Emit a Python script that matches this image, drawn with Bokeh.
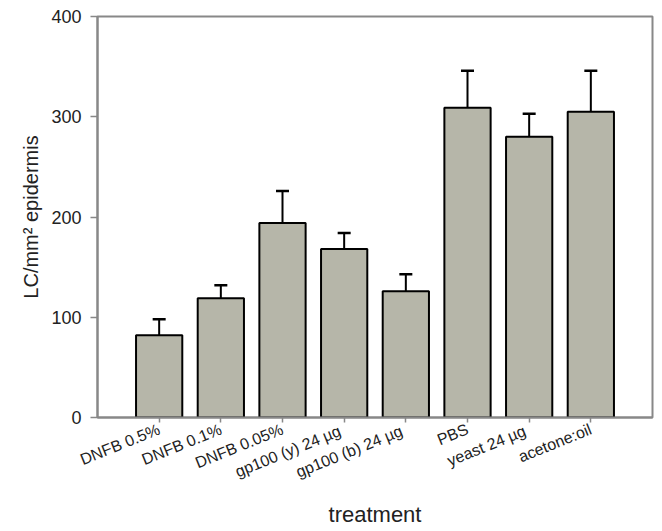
from bokeh.plotting import figure
from bokeh.models import ColumnDataSource, FactorRange, Range1d, FixedTicker, Whisker, TeeHead
from bokeh.embed import file_html
from bokeh.resources import INLINE

treatments = ["DNFB 0.5%", "DNFB 0.1%", "DNFB 0.05%", "gp100 (y) 24  µg",
              "gp100 (b) 24  µg", "PBS", "yeast 24  µg", "acetone:oil"]
lc_mean = [82, 119, 194, 168, 126, 309, 280, 305]
lc_sem = [16, 13, 32, 16, 17, 37, 23, 41]
y_ticks = [0, 100, 200, 300, 400]

upper = [m + s for m, s in zip(lc_mean, lc_sem)]
src = ColumnDataSource(dict(x=treatments, top=lc_mean, upper=upper))

p = figure(x_range=FactorRange(factors=treatments, range_padding=0.5, range_padding_units="absolute"),
           y_range=Range1d(0, 400),
           width=662, height=531, output_backend="svg", toolbar_location=None,
           min_border_left=97, min_border_right=10, min_border_top=16, min_border_bottom=114)

p.vbar(x="x", top="top", width=0.75, source=src, fill_color="#b6b6a9",
       line_color="black", line_width=2)

wh = Whisker(source=src, base="x", lower="top", upper="upper",
             upper_head=TeeHead(size=13, line_width=2.5, line_color="black"),
             lower_head=None, line_width=2, line_color="black")
p.add_layout(wh)

p.grid.visible = False
p.outline_line_color = "#888888"
p.outline_line_width = 2

for ax in (p.xaxis, p.yaxis):
    ax.axis_line_color = "#888888"
    ax.axis_line_width = 2
    ax.major_tick_line_color = "#888888"
    ax.major_tick_line_width = 1.5
    ax.major_tick_in = 0
    ax.minor_tick_line_color = None
    ax.major_label_text_font = "Liberation Sans"
    ax.major_label_text_color = "#222222"
    ax.axis_label_text_font = "Liberation Sans"
    ax.axis_label_text_font_style = "normal"
    ax.axis_label_text_color = "#222222"

p.yaxis.ticker = FixedTicker(ticks=y_ticks)
p.yaxis.major_tick_out = 7
p.yaxis.major_label_text_font_size = "18px"
p.yaxis.major_label_standoff = 9
p.yaxis.axis_label = "LC/mm² epidermis"
p.yaxis.axis_label_text_font_size = "20px"
p.yaxis.axis_label_standoff = 6

p.xaxis.major_tick_out = 5
p.xaxis.major_label_orientation = 0.384
p.xaxis.major_label_text_font_size = "16px"
p.xaxis.major_label_standoff = 6
p.xaxis.axis_label = "treatment"
p.xaxis.axis_label_text_font_size = "22px"
p.xaxis.axis_label_standoff = 11

open("out.html", "w").write(file_html(p, INLINE))
